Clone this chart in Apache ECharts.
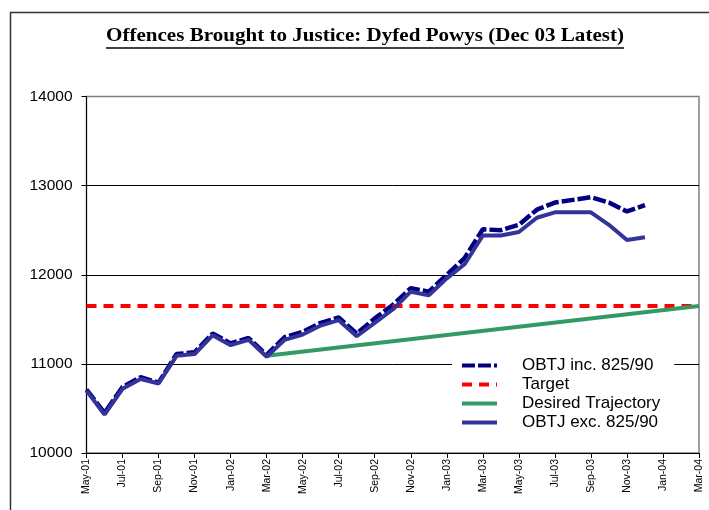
<!DOCTYPE html>
<html><head><meta charset="utf-8">
<script src="https://cdn.jsdelivr.net/npm/echarts@6/dist/echarts.min.js"></script>
<style>html,body{margin:0;padding:0;background:#fff}#c{width:709px;height:510px}</style>
</head><body><div id="c"></div>
<script>
const titleText = 'Offences Brought to Justice: Dyfed Powys (Dec 03 Latest)';
const months = ['May-01','Jun-01','Jul-01','Aug-01','Sep-01','Oct-01','Nov-01','Dec-01',
  'Jan-02','Feb-02','Mar-02','Apr-02','May-02','Jun-02','Jul-02','Aug-02','Sep-02','Oct-02','Nov-02','Dec-02',
  'Jan-03','Feb-03','Mar-03','Apr-03','May-03','Jun-03','Jul-03','Aug-03','Sep-03','Oct-03','Nov-03','Dec-03',
  'Jan-04','Feb-04','Mar-04'];
const obtjInc = [10710,10450,10740,10850,10790,11110,11130,11340,
  11230,11290,11100,11300,11360,11460,11520,11340,11510,11660,11850,11810,
  12000,12190,12510,12500,12560,12730,12810,12840,12870,12810,12710,12780];
const obtjExc = [10700,10430,10720,10830,10780,11090,11110,11320,
  11210,11270,11080,11270,11330,11430,11490,11310,11460,11610,11810,11770,
  11960,12120,12440,12440,12480,12640,12700,12700,12700,12560,12390,12420];
const targetEnds = [['May-01',11650],['Mar-04',11650]];
const trajectoryEnds = [['Mar-02',11090],['Mar-04',11650]];
const yMin = 10000, yMax = 14000, yStep = 1000;
const seriesNames = ['OBTJ inc. 825/90','Target','Desired Trajectory','OBTJ exc. 825/90'];

const cv = document.createElement('canvas').getContext('2d');
cv.font = 'bold 18px "Liberation Serif"';
const tw = cv.measureText(titleText).width;
const tcx = 365, tby = 45, tLeft = 106, tRight = 624;
const tScale = (tRight - tLeft) / tw;

const chart = echarts.init(document.getElementById('c'), null, {renderer:'canvas'});
chart.setOption({
  animation:false,
  backgroundColor:'#fff',
  graphic:[
    {type:'rect', shape:{x:10.5,y:12.5,width:720,height:520}, style:{fill:'none',stroke:'#333',lineWidth:1.5}, z:0},
    {type:'text', x:tcx, y:tby, scaleX:tScale, style:{text:titleText, font:'bold 18px "Liberation Serif"', fill:'#000', textAlign:'center', textVerticalAlign:'bottom'}},
    {type:'line', shape:{x1:tLeft, y1:tby+3, x2:tRight, y2:tby+3}, style:{stroke:'#000', lineWidth:1.7}}
  ],
  grid:{left:86.5, right:10, top:96.5, bottom:57, show:true, borderColor:'#808080', borderWidth:1.5, containLabel:false},
  legend:{
    orient:'vertical', left:452, top:354,
    backgroundColor:'#fff', padding:[3,14,4,8],
    itemWidth:35, itemHeight:16, itemGap:2,
    data:seriesNames,
    itemStyle:{opacity:0},
    lineStyle:{width:4},
    textStyle:{fontFamily:'Liberation Sans', fontSize:17, color:'#000', lineHeight:16, padding:[0,0,0,20]}
  },
  xAxis:{
    type:'category', data:months, boundaryGap:false,
    axisLine:{lineStyle:{color:'#000', width:1}},
    axisTick:{interval:1, length:5, lineStyle:{color:'#000'}},
    axisLabel:{interval:1, rotate:90, fontFamily:'Liberation Sans', fontSize:10.5, color:'#000', margin:6},
    splitLine:{show:false}
  },
  yAxis:{
    type:'value', min:yMin, max:yMax, interval:yStep,
    axisLine:{show:true, lineStyle:{color:'#000', width:1}},
    axisTick:{show:true, length:5, lineStyle:{color:'#000'}},
    axisLabel:{fontFamily:'Liberation Sans', fontSize:15.5, color:'#000', margin:14, formatter:function(v){return String(v);}},
    splitLine:{show:true, lineStyle:{color:['#000','#000','#000','#000','#808080'], width:1}}
  },
  series:[
    {name:seriesNames[0], type:'line', data:obtjInc, symbol:'none', z:2,
     lineStyle:{color:'#000080', width:4.5, type:[13,3]}, itemStyle:{color:'#000080'}},
    {name:seriesNames[1], type:'line', data:targetEnds, symbol:'none', z:3,
     lineStyle:{color:'#ff0000', width:4, type:[10,7]}, itemStyle:{color:'#ff0000'}},
    {name:seriesNames[2], type:'line', data:trajectoryEnds, symbol:'none', z:4,
     lineStyle:{color:'#339966', width:4}, itemStyle:{color:'#339966'}},
    {name:seriesNames[3], type:'line', data:obtjExc, symbol:'none', z:5,
     lineStyle:{color:'#333399', width:4}, itemStyle:{color:'#333399'}}
  ]
});
</script></body></html>
